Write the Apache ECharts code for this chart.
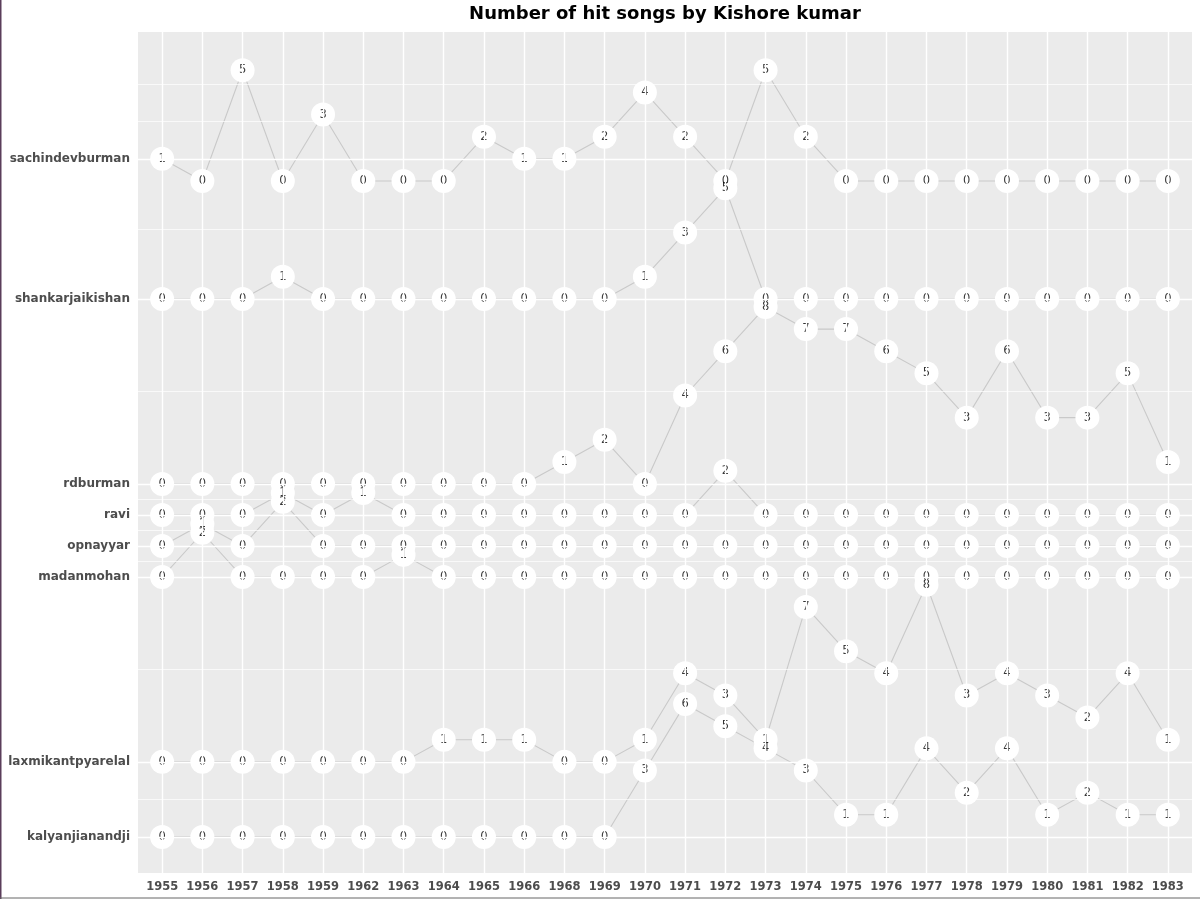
<!DOCTYPE html>
<html>
<head>
<meta charset="utf-8">
<script src="https://cdn.jsdelivr.net/npm/echarts@6/dist/echarts.min.js"></script>
<style>html,body{margin:0;padding:0;background:#fff}#c{width:1200px;height:899px}</style>
</head>
<body>
<div id="c"></div>
<script>
// ---- data ----
const years = ['1955','1956','1957','1958','1959','1962','1963','1964','1965','1966','1968','1969','1970','1971','1972','1973','1974','1975','1976','1977','1978','1979','1980','1981','1982','1983'];
const composers = ['kalyanjianandji','laxmikantpyarelal','madanmohan','opnayyar','ravi','rdburman','shankarjaikishan','sachindevburman'];
const kalyanjianandji   = [0,0,0,0,0,0,0,0,0,0,0,0,3,6,5,4,3,1,1,4,2,4,1,2,1,1];
const laxmikantpyarelal = [0,0,0,0,0,0,0,1,1,1,0,0,1,4,3,1,7,5,4,8,3,4,3,2,4,1];
const madanmohan        = [0,2,0,0,0,0,1,0,0,0,0,0,0,0,0,0,0,0,0,0,0,0,0,0,0,0];
const opnayyar          = [0,1,0,2,0,0,0,0,0,0,0,0,0,0,0,0,0,0,0,0,0,0,0,0,0,0];
const ravi              = [0,0,0,1,0,1,0,0,0,0,0,0,0,0,2,0,0,0,0,0,0,0,0,0,0,0];
const rdburman          = [0,0,0,0,0,0,0,0,0,0,1,2,0,4,6,8,7,7,6,5,3,6,3,3,5,1];
const shankarjaikishan  = [0,0,0,1,0,0,0,0,0,0,0,0,1,3,5,0,0,0,0,0,0,0,0,0,0,0];
const sachindevburman   = [1,0,5,0,3,0,0,0,2,1,1,2,4,2,0,5,2,0,0,0,0,0,0,0,0,0];
const title = 'Number of hit songs by Kishore kumar';

// ---- layout (row baselines on the y scale, in song units) ----
const rowBase = [0, 3.39, 11.74, 13.14, 14.54, 15.94, 24.30, 29.63];
const seriesValues = [kalyanjianandji, laxmikantpyarelal, madanmohan, opnayyar, ravi, rdburman, shankarjaikishan, sachindevburman];
const yMin = -1.63, yMax = 36.36;
const xMin = -0.6, xMax = years.length - 1 + 0.6;

// y breaks: each row labelled at its first point
const breaks = seriesValues.map((vals, k) => rowBase[k] + vals[0]);
const sortedBreaks = breaks.slice().sort((a, b) => a - b);
// ggplot-style minor breaks
const bd = sortedBreaks[1] - sortedBreaks[0];
const ext = [sortedBreaks[0] - bd].concat(sortedBreaks, [sortedBreaks[sortedBreaks.length - 1] + bd]);
const minors = [];
for (let i = 0; i < ext.length - 1; i++) minors.push((ext[i] + ext[i + 1]) / 2);
minors.push(ext[0], ext[ext.length - 1]);
const minorIn = minors.filter(v => v > yMin && v < yMax);

function labelFor(v) {
  let best = 0, bestD = 1e9;
  breaks.forEach((b, k) => { const d = Math.abs(b - v); if (d < bestD) { bestD = d; best = k; } });
  return composers[best];
}

const xIdx = years.map((_, i) => i);
const font = 'DejaVu Sans';

const gridLines = [];
xIdx.forEach(i => gridLines.push({ xAxis: i, lineStyle: { color: '#ffffff', width: 1.4, type: 'solid' } }));
sortedBreaks.forEach(v => gridLines.push({ yAxis: v, lineStyle: { color: '#ffffff', width: 1.4, type: 'solid' } }));
minorIn.forEach(v => gridLines.push({ yAxis: v, lineStyle: { color: '#ffffff', width: 0.7, type: 'solid' } }));

const series = [];
series.push({
  type: 'scatter', data: [], z: 1, silent: true,
  markLine: { silent: true, symbol: ['none', 'none'], label: { show: false }, animation: false, data: gridLines }
});
seriesValues.forEach((vals, k) => {
  series.push({
    type: 'line', name: composers[k], z: 2, silent: true, showSymbol: false, symbol: 'none',
    lineStyle: { color: '#c9c9c9', width: 1.1 },
    data: vals.map((v, i) => [i, rowBase[k] + v])
  });
});
const pts = [];
seriesValues.forEach((vals, k) => vals.forEach((v, i) => pts.push([i, rowBase[k] + v, v])));
series.push({
  type: 'scatter', z: 3, silent: true, symbol: 'circle', symbolSize: 24,
  itemStyle: { color: '#ffffff', opacity: 1 }, data: pts
});
series.push({
  type: 'scatter', z: 4, silent: true, symbol: 'circle', symbolSize: 2,
  itemStyle: { color: 'rgba(0,0,0,0)' }, data: pts,
  label: {
    show: true, position: ['50%', '50%'], align: 'center', verticalAlign: 'middle',
    formatter: p => String(p.value[2]), fontSize: 11.5, color: '#000000',
    textBorderColor: 'transparent', textBorderWidth: 0, fontFamily: font
  },
  labelLayout: { hideOverlap: false }
});

const chart = echarts.init(document.getElementById('c'), null, { renderer: 'canvas' });
chart.setOption({
  animation: false,
  backgroundColor: '#ffffff',
  title: {
    text: title, left: 660, top: 0, textAlign: 'center',
    textStyle: { fontSize: 18, fontWeight: 'bold', color: '#000', fontFamily: font }
  },
  grid: { left: 138, right: 8, top: 32, bottom: 26, show: true, backgroundColor: '#ebebeb', borderWidth: 0, containLabel: false },
  xAxis: {
    type: 'value', min: xMin, max: xMax,
    axisLine: { show: false }, splitLine: { show: false },
    axisTick: { show: true, customValues: xIdx, length: 3, lineStyle: { color: '#333', width: 1 } },
    axisLabel: { customValues: xIdx, formatter: v => years[Math.round(v)], fontSize: 11.5, fontWeight: 'bold', color: '#4d4d4d', fontFamily: font, margin: 8 }
  },
  yAxis: {
    type: 'value', min: yMin, max: yMax,
    axisLine: { show: false }, splitLine: { show: false },
    axisTick: { show: true, customValues: breaks, length: 3, lineStyle: { color: '#333', width: 1 } },
    axisLabel: { customValues: breaks, formatter: v => labelFor(v), fontSize: 12, fontWeight: 'bold', color: '#4d4d4d', fontFamily: font, margin: 8 }
  },
  graphic: [
    { type: 'line', shape: { x1: 0.75, y1: 0, x2: 0.75, y2: 899 }, style: { stroke: '#5a3d5a', lineWidth: 1.5 }, silent: true },
    { type: 'line', shape: { x1: 0, y1: 898, x2: 1200, y2: 898 }, style: { stroke: '#666', lineWidth: 1 }, silent: true }
  ],
  series: series
});
</script>
</body>
</html>
